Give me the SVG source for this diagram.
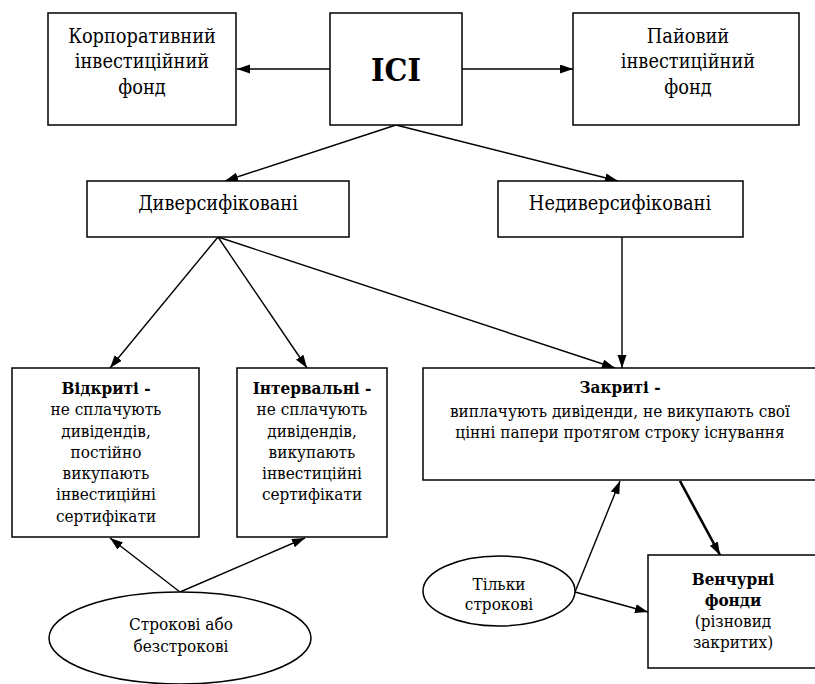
<svg xmlns="http://www.w3.org/2000/svg" width="815" height="684" viewBox="0 0 815 684">
<defs>
<marker id="ah" markerUnits="userSpaceOnUse" markerWidth="14" markerHeight="10" refX="13" refY="4.5" orient="auto">
<path d="M0,0 L13,4.5 L0,9 z" fill="#000"/>
</marker>
</defs>
<style>
.box{fill:#fff;stroke:#000;stroke-width:1.5}
text{font-family:'DejaVu Serif Condensed','DejaVu Serif',serif;font-stretch:condensed;fill:#000;text-anchor:middle}
.t21{font-size:19.8px}
.t19{font-size:17px}
.b{font-weight:bold}
.c{stroke:#000;stroke-width:1.4;fill:none;marker-end:url(#ah)}
.thick{stroke-width:2.6}
</style>
<rect width="815" height="684" fill="#fff"/>
<g id="connectors">
<line class="c" x1="330" y1="69" x2="237" y2="69"/>
<line class="c" x1="462" y1="69" x2="573" y2="69"/>
<line class="c" x1="396" y1="125" x2="225" y2="181"/>
<line class="c" x1="396" y1="125" x2="618" y2="181"/>
<line class="c" x1="218" y1="237" x2="110" y2="368"/>
<line class="c" x1="218" y1="237" x2="307" y2="368"/>
<line class="c" x1="218" y1="237" x2="615" y2="368"/>
<line class="c" x1="622" y1="237" x2="622" y2="368"/>
<line class="c" x1="180" y1="592" x2="110" y2="538"/>
<line class="c" x1="180" y1="592" x2="305" y2="538"/>
<line class="c" x1="575" y1="592" x2="620" y2="481"/>
<line class="c" x1="575" y1="592" x2="648" y2="612"/>
<line class="c thick" x1="680" y1="481" x2="720" y2="555"/>
</g>
<g id="corporate">
<rect class="box" x="48" y="13" width="188" height="112"/>
<text class="t21" x="142" y="43">Корпоративний</text>
<text class="t21" x="142" y="68">інвестиційний</text>
<text class="t21" x="142" y="94">фонд</text>
</g>
<g id="ici">
<rect class="box" x="330" y="13" width="132" height="112"/>
<text class="b" x="396" y="81" font-size="32">ICI</text>
</g>
<g id="unit">
<rect class="box" x="573" y="13" width="226" height="112"/>
<text class="t21" x="688" y="43">Пайовий</text>
<text class="t21" x="688" y="68">інвестиційний</text>
<text class="t21" x="688" y="94">фонд</text>
</g>
<g id="diversified">
<rect class="box" x="87" y="181" width="262" height="56"/>
<text class="t21" x="218" y="210">Диверсифіковані</text>
</g>
<g id="nondiversified">
<rect class="box" x="498" y="181" width="245" height="56"/>
<text class="t21" x="620" y="210">Недиверсифіковані</text>
</g>
<g id="open">
<rect class="box" x="12" y="368" width="187" height="169"/>
<text class="t19 b" x="106" y="394">Відкриті -</text>
<text class="t19" x="106" y="415">не сплачують</text>
<text class="t19" x="106" y="437">дивідендів,</text>
<text class="t19" x="106" y="458">постійно</text>
<text class="t19" x="106" y="479">викупають</text>
<text class="t19" x="106" y="500">інвестиційні</text>
<text class="t19" x="106" y="522">сертифікати</text>
</g>
<g id="interval">
<rect class="box" x="237" y="368" width="150" height="169"/>
<text class="t19 b" x="312" y="394">Інтервальні -</text>
<text class="t19" x="312" y="415">не сплачують</text>
<text class="t19" x="312" y="437">дивідендів,</text>
<text class="t19" x="312" y="458">викупають</text>
<text class="t19" x="312" y="479">інвестиційні</text>
<text class="t19" x="312" y="500">сертифікати</text>
</g>
<g id="closed">
<rect class="box" x="423" y="368" width="395" height="112"/>
<text class="t19 b" x="620" y="393">Закриті -</text>
<text class="t19" x="620" y="417">виплачують дивіденди, не викупають свої</text>
<text class="t19" x="620" y="438">цінні папери протягом строку існування</text>
</g>
<g id="venture">
<rect class="box" x="648" y="555" width="170" height="113"/>
<text class="t19 b" x="733" y="585">Венчурні</text>
<text class="t19 b" x="733" y="606">фонди</text>
<text class="t19" x="733" y="627">(різновид</text>
<text class="t19" x="733" y="648">закритих)</text>
</g>
<g id="term-or-not">
<ellipse class="box" cx="180" cy="638" rx="131" ry="46"/>
<text class="t19" x="181" y="630">Строкові або</text>
<text class="t19" x="181" y="652">безстрокові</text>
</g>
<g id="term-only">
<ellipse class="box" cx="499" cy="591" rx="76" ry="35"/>
<text class="t19" x="499" y="590">Тільки</text>
<text class="t19" x="499" y="610">строкові</text>
</g>
</svg>
